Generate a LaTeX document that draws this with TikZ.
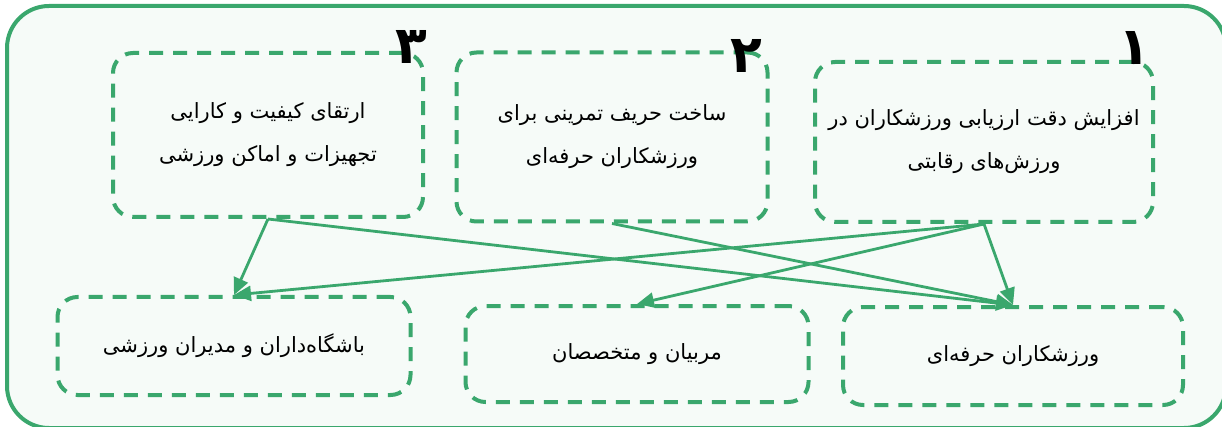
\documentclass[tikz,border=0pt]{standalone}
\usepackage{fontspec}
\usetikzlibrary{arrows.meta}
\TeXXeTstate=1
\newfontfamily\farsi[Script=Arabic]{DejaVu Sans}
\definecolor{leafgreen}{HTML}{3AA76D}
\definecolor{panelbg}{HTML}{F6FBF8}

\begin{document}
\begin{tikzpicture}[x=1pt,y=-1pt,
  goalbox/.style={draw=leafgreen, line width=4pt, dash pattern=on 14pt off 10pt,
    rounded corners=20pt, align=center, inner sep=0pt,
    font=\farsi\fontsize{21}{43}\selectfont},
  link/.style={draw=leafgreen, line width=2.8pt, -{Triangle[length=17pt,width=15pt]}},
  rank/.style={font=\farsi\bfseries\fontsize{52}{52}\selectfont}]

\useasboundingbox (0,0) rectangle (1222,427);

\draw [leafgreen, line width=4pt, fill=panelbg, rounded corners=42pt] (7,6) rectangle (1226,428);

\node [goalbox, minimum width=338pt, minimum height=160pt] (g1) at (984,142)
  {\beginR افزایش دقت ارزیابی ورزشکاران در\endR\\\beginR ورزش‌های رقابتی\endR};
\node [goalbox, minimum width=311pt, minimum height=169pt] (g2) at (612,137)
  {\beginR ساخت حریف تمرینی برای\endR\\\beginR ورزشکاران حرفه‌ای\endR};
\node [goalbox, minimum width=310pt, minimum height=164pt] (g3) at (268,135)
  {\beginR ارتقای کیفیت و کارایی\endR\\\beginR تجهیزات و اماکن ورزشی\endR};

\node [rank] (r1) at (1134,48) {۱};
\node [rank] (r2) at (746,56) {۲};
\node [rank] (r3) at (411,47) {۳};

\node [goalbox, minimum width=353pt, minimum height=98pt] (clubs) at (234,346)
  {\beginR باشگاه‌داران و مدیران ورزشی\endR};
\node [goalbox, minimum width=343pt, minimum height=96pt] (coaches) at (637,354)
  {\beginR مربیان و متخصصان\endR};
\node [goalbox, minimum width=340pt, minimum height=98pt] (athletes) at (1013,356)
  {\beginR ورزشکاران حرفه‌ای\endR};

\draw [link] (g3.south) -- (clubs.north);
\draw [link] (g3.south) -- (athletes.north);
\draw [link] (g2.south) -- (athletes.north);
\draw [link] (g1.south) -- (clubs.north);
\draw [link] (g1.south) -- (coaches.north);
\draw [link] (g1.south) -- (athletes.north);

\end{tikzpicture}
\end{document}
